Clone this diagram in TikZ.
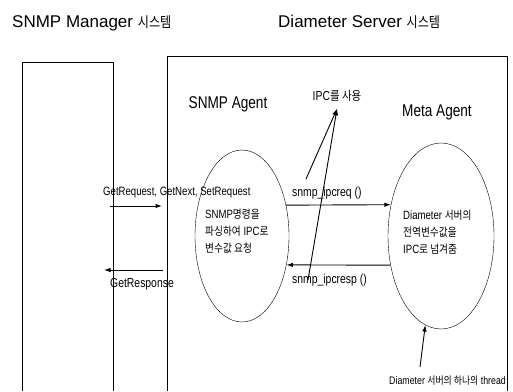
\documentclass[tikz,border=0pt]{standalone}
\usepackage{fontspec}
\usepackage{tikz}
\usetikzlibrary{arrows.meta,positioning,shapes.geometric}
\setmainfont{Liberation Sans}
\newfontfamily\cond{Liberation Sans}[FakeStretch=0.8]
\newfontfamily\kor{Noto Sans CJK KR}[Scale=0.95,FakeStretch=0.85]
\newcommand\ko[1]{{\kor #1}}
\newcommand\kot[1]{{\kor\fontsize{15}{17}\selectfont #1}}

\tikzset{
  ttl/.style={font=\fontsize{17}{20}\selectfont,inner sep=0pt,anchor=base west},
  agent/.style={font=\cond\fontsize{17}{20}\selectfont,inner sep=0pt},
  lbl/.style={font=\cond\fontsize{13}{15}\selectfont,inner sep=0pt},
  desc/.style={font=\cond\fontsize{12}{17}\selectfont,align=left,inner sep=0pt},
  proc/.style={draw,ellipse,inner sep=0pt},
  msg/.style={-{Latex[length=6.5pt,width=4.5pt]},line width=0.9pt},
  box/.style={line width=0.8pt}
}

\begin{document}
\begin{tikzpicture}[x=1pt,y=-1pt]
  \useasboundingbox (0,0) rectangle (513,391);

  % Systeme
  \node[ttl] (mgrttl) at (12,27) {SNMP Manager \kot{시스템}};
  \node[ttl] (srvttl) at (278,27) {Diameter Server \kot{시스템}};

  \coordinate (m1) at (22,391);
  \coordinate (m2) at (22,62);
  \coordinate (m3) at (113,62);
  \coordinate (m4) at (113,391);
  \draw[box] (m1) -- (m2) -- (m3) -- (m4);

  \coordinate (s1) at (167,391);
  \coordinate (s2) at (167,56);
  \coordinate (s3) at (507,56);
  \coordinate (s4) at (507,391);
  \draw[box] (s1) -- (s2) -- (s3) -- (s4);

  % Agenten
  \node[agent] (satitle) at (228,104) {SNMP Agent};
  \node[agent] (matitle) at (437,112) {Meta Agent};
  \node[proc,minimum width=94pt,minimum height=172pt] (sa) at (242,236) {};
  \node[proc,minimum width=106pt,minimum height=186pt] (ma) at (441,236) {};
  \node[desc,anchor=west] (sadesc) at (205,231) {SNMP\ko{명령을}\\\ko{파싱하여} IPC\ko{로}\\\ko{변수값 요청}};
  \node[desc,anchor=west] (madesc) at (403,232) {Diameter \ko{서버의}\\\ko{전역변수값을}\\IPC\ko{로 넘겨줌}};

  % Nachrichten
  \coordinate (g1) at (110,206);
  \coordinate (g2) at (162,206);
  \draw[msg] (g1) -- (g2);
  \node[lbl,font=\cond\fontsize{12}{14}\selectfont,anchor=west] (getreq) at (103,193) {GetRequest, GetNext, SetRequest};

  \coordinate (r1) at (163,270);
  \coordinate (r2) at (104,270);
  \draw[msg] (r1) -- (r2);
  \node[lbl,anchor=west] (getresp) at (110,284) {GetResponse};

  \draw[msg] (sa.35) -- (ma.148);
  \node[lbl,anchor=west] (ipcreq) at (292,193) {snmp\_ipcreq ()};
  \draw[msg] (ma.210) -- (sa.-33);
  \node[lbl,anchor=west] (ipcresp) at (292,280) {snmp\_ipcresp ()};

  % IPC
  \node[lbl] (ipc) at (337,96) {IPC\ko{를 사용}};
  \coordinate (q1) at (306,179);
  \coordinate (q2) at (308,280);
  \draw[msg] (q1) -- ([yshift=-7pt]ipc.south);
  \draw[msg] (q2) -- ([yshift=-7pt]ipc.south);

  % Thread
  \node[lbl,font=\cond\fontsize{11}{13}\selectfont,anchor=base east] (thr) at (506,384) {Diameter \ko{서버의 하나의} thread};
  \coordinate (t1) at (420,367);
  \draw[msg] (t1) -- (ma.260);
\end{tikzpicture}
\end{document}
